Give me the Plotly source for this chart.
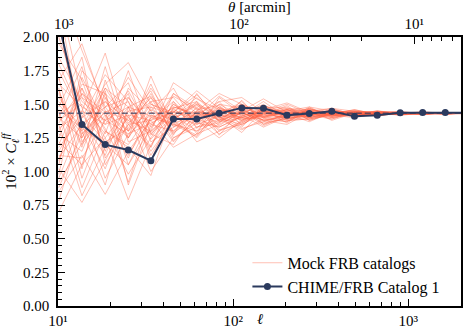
import numpy as np
import plotly.graph_objects as go

# multipole bin centres
ell = [10.1, 13.7, 18.6, 25.2, 33.9, 45.6, 62.0, 83.2, 112, 149, 203, 272,
       366, 493, 665, 899, 1208, 1626, 2190]

# CHIME/FRB Catalog 1 measurement (10^2 x C_ell^ff)
chime = [2.11, 1.35, 1.20, 1.16, 1.08, 1.39, 1.39, 1.433, 1.473, 1.47, 1.418,
         1.431, 1.448, 1.41, 1.418, 1.436, 1.438, 1.438, 1.436]

mean_level = 1.433

# mock catalog realisations
mocks = [
    [1.85, 1.52, 1.38, 1.60, 1.29, 1.47, 1.52, 1.38, 1.44, 1.49, 1.41, 1.45, 1.42, 1.44, 1.43, 1.425, 1.438, 1.432, 1.436],
    [0.92, 1.21, 1.55, 1.12, 1.40, 1.35, 1.30, 1.48, 1.39, 1.41, 1.46, 1.40, 1.44, 1.415, 1.445, 1.44, 1.428, 1.435, 1.43],
    [1.40, 1.78, 1.10, 1.35, 1.55, 1.28, 1.45, 1.42, 1.52, 1.37, 1.43, 1.47, 1.41, 1.45, 1.42, 1.435, 1.44, 1.43, 1.434],
    [2.25, 1.30, 1.62, 1.48, 1.18, 1.52, 1.36, 1.33, 1.41, 1.46, 1.39, 1.42, 1.46, 1.43, 1.41, 1.44, 1.425, 1.438, 1.432],
    [0.70, 1.05, 1.25, 0.79, 1.20, 1.41, 1.55, 1.40, 1.35, 1.43, 1.48, 1.38, 1.43, 1.42, 1.44, 1.43, 1.436, 1.428, 1.435],
    [1.62, 0.95, 1.40, 1.70, 1.45, 1.22, 1.40, 1.56, 1.45, 1.34, 1.42, 1.44, 1.39, 1.44, 1.435, 1.42, 1.44, 1.434, 1.43],
    [1.15, 1.45, 1.88, 1.30, 1.62, 1.38, 1.25, 1.44, 1.50, 1.40, 1.37, 1.45, 1.44, 1.41, 1.43, 1.445, 1.43, 1.426, 1.437],
    [1.95, 1.68, 1.20, 1.05, 1.32, 1.58, 1.47, 1.30, 1.37, 1.47, 1.44, 1.39, 1.42, 1.46, 1.42, 1.43, 1.422, 1.44, 1.433],
    [1.02, 0.77, 1.08, 1.42, 1.00, 1.25, 1.33, 1.39, 1.31, 1.39, 1.45, 1.48, 1.40, 1.43, 1.45, 1.425, 1.435, 1.43, 1.428],
    [1.52, 1.33, 1.65, 1.81, 1.50, 1.44, 1.60, 1.47, 1.42, 1.52, 1.40, 1.41, 1.45, 1.42, 1.44, 1.44, 1.43, 1.437, 1.434],
    [2.40, 1.90, 1.48, 1.25, 1.71, 1.33, 1.42, 1.52, 1.55, 1.44, 1.50, 1.43, 1.47, 1.445, 1.425, 1.432, 1.445, 1.43, 1.436],
    [0.85, 1.12, 0.83, 1.15, 1.38, 1.18, 1.28, 1.35, 1.44, 1.36, 1.39, 1.40, 1.42, 1.40, 1.43, 1.42, 1.43, 1.428, 1.431],
    [1.30, 1.58, 1.32, 0.98, 1.25, 1.50, 1.38, 1.25, 1.38, 1.42, 1.47, 1.46, 1.38, 1.435, 1.415, 1.44, 1.432, 1.44, 1.43],
    [1.75, 1.40, 1.72, 1.52, 1.12, 1.40, 1.50, 1.43, 1.33, 1.49, 1.43, 1.37, 1.44, 1.45, 1.44, 1.43, 1.44, 1.432, 1.437],
    [1.08, 1.62, 1.15, 1.62, 1.45, 1.62, 1.32, 1.50, 1.47, 1.38, 1.35, 1.44, 1.43, 1.42, 1.43, 1.438, 1.426, 1.435, 1.43],
    [2.10, 1.25, 1.52, 1.30, 1.58, 1.27, 1.58, 1.37, 1.40, 1.45, 1.42, 1.47, 1.41, 1.44, 1.445, 1.43, 1.435, 1.43, 1.434],
    [1.45, 0.88, 1.30, 1.18, 0.97, 1.45, 1.22, 1.30, 1.42, 1.33, 1.41, 1.42, 1.45, 1.41, 1.42, 1.425, 1.43, 1.438, 1.428],
    [0.78, 1.35, 1.02, 1.45, 1.28, 1.20, 1.45, 1.58, 1.50, 1.41, 1.38, 1.39, 1.43, 1.44, 1.435, 1.445, 1.428, 1.43, 1.436],
    [1.68, 1.95, 1.45, 1.38, 1.52, 1.55, 1.35, 1.41, 1.29, 1.46, 1.51, 1.44, 1.40, 1.43, 1.44, 1.42, 1.44, 1.436, 1.432],
    [1.22, 1.05, 1.60, 0.90, 1.35, 1.30, 1.48, 1.34, 1.45, 1.54, 1.44, 1.41, 1.46, 1.42, 1.43, 1.435, 1.434, 1.43, 1.433],
    [2.00, 1.48, 0.95, 1.28, 1.42, 1.36, 1.27, 1.45, 1.47, 1.35, 1.40, 1.46, 1.42, 1.445, 1.42, 1.44, 1.438, 1.428, 1.435],
    [0.98, 1.70, 1.35, 1.58, 1.08, 1.48, 1.42, 1.28, 1.36, 1.44, 1.46, 1.40, 1.44, 1.415, 1.45, 1.43, 1.425, 1.44, 1.43],
    [1.58, 1.18, 1.78, 1.22, 1.30, 1.66, 1.54, 1.46, 1.40, 1.39, 1.37, 1.48, 1.45, 1.43, 1.43, 1.425, 1.44, 1.43, 1.434],
    [1.35, 0.82, 1.18, 1.40, 1.60, 1.25, 1.36, 1.52, 1.34, 1.47, 1.43, 1.42, 1.39, 1.44, 1.44, 1.44, 1.43, 1.434, 1.431],
    [2.30, 1.55, 1.42, 1.10, 1.48, 1.42, 1.30, 1.38, 1.49, 1.42, 1.49, 1.38, 1.43, 1.46, 1.425, 1.43, 1.435, 1.426, 1.437],
    [0.88, 1.28, 1.48, 1.66, 1.22, 1.33, 1.44, 1.41, 1.32, 1.37, 1.42, 1.45, 1.47, 1.42, 1.44, 1.44, 1.428, 1.438, 1.43],
    [1.48, 1.85, 1.05, 1.35, 1.38, 1.52, 1.28, 1.55, 1.43, 1.50, 1.39, 1.43, 1.41, 1.43, 1.415, 1.435, 1.44, 1.43, 1.435],
    [1.12, 1.10, 1.38, 1.48, 1.15, 1.38, 1.52, 1.27, 1.46, 1.40, 1.45, 1.40, 1.44, 1.45, 1.44, 1.42, 1.43, 1.437, 1.432],
    [1.80, 1.42, 1.22, 1.32, 1.65, 1.29, 1.40, 1.44, 1.38, 1.46, 1.36, 1.47, 1.42, 1.41, 1.435, 1.44, 1.435, 1.43, 1.434],
    [1.25, 1.65, 1.58, 1.05, 1.40, 1.47, 1.33, 1.36, 1.53, 1.35, 1.44, 1.44, 1.43, 1.44, 1.43, 1.43, 1.44, 1.428, 1.433],
    [0.95, 1.38, 1.12, 1.55, 1.33, 1.56, 1.46, 1.49, 1.37, 1.43, 1.40, 1.41, 1.46, 1.43, 1.45, 1.435, 1.426, 1.435, 1.43],
    [1.70, 1.02, 1.68, 1.25, 1.52, 1.23, 1.39, 1.33, 1.41, 1.48, 1.47, 1.43, 1.40, 1.44, 1.42, 1.43, 1.438, 1.433, 1.436],
    [1.38, 1.50, 1.28, 1.75, 1.28, 1.44, 1.57, 1.40, 1.44, 1.38, 1.41, 1.46, 1.44, 1.42, 1.44, 1.44, 1.43, 1.43, 1.431],
    [2.15, 1.22, 1.45, 0.92, 1.42, 1.35, 1.26, 1.47, 1.40, 1.45, 1.38, 1.39, 1.43, 1.45, 1.43, 1.425, 1.436, 1.44, 1.434],
    [1.05, 1.75, 1.55, 1.35, 1.18, 1.58, 1.43, 1.39, 1.48, 1.41, 1.46, 1.45, 1.42, 1.43, 1.425, 1.44, 1.43, 1.432, 1.43],
    [1.55, 1.30, 0.90, 1.48, 1.56, 1.39, 1.50, 1.31, 1.35, 1.43, 1.43, 1.42, 1.45, 1.42, 1.44, 1.435, 1.44, 1.436, 1.435],
    [1.32, 1.45, 1.35, 1.42, 1.38, 1.44, 1.41, 1.46, 1.42, 1.44, 1.42, 1.43, 1.435, 1.425, 1.43, 1.432, 1.434, 1.43, 1.433],
    [1.50, 1.28, 1.44, 1.30, 1.46, 1.37, 1.45, 1.40, 1.45, 1.41, 1.44, 1.42, 1.43, 1.44, 1.428, 1.436, 1.43, 1.434, 1.432],
    [1.18, 1.40, 1.52, 1.38, 1.30, 1.46, 1.38, 1.44, 1.40, 1.45, 1.41, 1.445, 1.42, 1.43, 1.44, 1.43, 1.436, 1.431, 1.434],
    [1.42, 1.55, 1.25, 1.48, 1.41, 1.34, 1.47, 1.38, 1.43, 1.40, 1.45, 1.43, 1.44, 1.425, 1.435, 1.428, 1.432, 1.436, 1.43],
    [1.60, 1.20, 1.42, 1.25, 1.50, 1.42, 1.35, 1.48, 1.38, 1.46, 1.43, 1.41, 1.43, 1.44, 1.43, 1.437, 1.43, 1.432, 1.435],
    [1.10, 1.35, 1.48, 1.55, 1.35, 1.48, 1.43, 1.36, 1.47, 1.42, 1.40, 1.44, 1.425, 1.43, 1.44, 1.43, 1.428, 1.434, 1.433],
    [1.36, 1.62, 1.30, 1.20, 1.44, 1.39, 1.49, 1.42, 1.39, 1.43, 1.46, 1.42, 1.44, 1.42, 1.425, 1.44, 1.434, 1.43, 1.432],
    [1.28, 1.15, 1.58, 1.40, 1.27, 1.50, 1.40, 1.45, 1.44, 1.38, 1.42, 1.45, 1.41, 1.435, 1.43, 1.43, 1.44, 1.433, 1.436],
    [1.46, 1.32, 1.20, 1.45, 1.48, 1.30, 1.44, 1.41, 1.50, 1.44, 1.39, 1.43, 1.45, 1.43, 1.42, 1.435, 1.428, 1.437, 1.431],
    [1.65, 1.48, 1.38, 1.28, 1.36, 1.45, 1.37, 1.50, 1.41, 1.47, 1.43, 1.40, 1.43, 1.445, 1.435, 1.425, 1.435, 1.43, 1.434],
    [1.20, 1.58, 1.44, 1.52, 1.24, 1.42, 1.51, 1.37, 1.45, 1.40, 1.46, 1.44, 1.42, 1.42, 1.43, 1.44, 1.43, 1.435, 1.43],
    [1.40, 1.25, 1.62, 1.36, 1.55, 1.36, 1.42, 1.43, 1.36, 1.45, 1.41, 1.46, 1.44, 1.43, 1.44, 1.43, 1.437, 1.429, 1.433],
]

ell_ticks = [10, 100, 1000]
ell_ticktext = ["10¹", "10²", "10³"]
theta_ticks = [1000, 100, 10]
theta_ticktext = ["10³", "10²", "10¹"]

ell_min, ell_max = 10, 2000

NAVY = "#2b3a5e"
MOCK = "rgba(255,99,71,0.4)"
FONT = "Liberation Serif"

fig = go.Figure()

for i, m in enumerate(mocks):
    fig.add_trace(go.Scatter(
        x=ell, y=m, mode="lines",
        line=dict(color=MOCK, width=1),
        name="Mock FRB catalogs", legendgroup="mock",
        showlegend=(i == 0), hoverinfo="skip",
    ))

fig.add_trace(go.Scatter(
    x=[ell[0], ell[-1]], y=[mean_level, mean_level], mode="lines",
    line=dict(color="rgba(43,58,94,0.7)", width=1.5, dash="6px,3px"),
    showlegend=False, hoverinfo="skip",
))

fig.add_trace(go.Scatter(
    x=ell, y=chime, mode="lines+markers",
    line=dict(color=NAVY, width=2),
    marker=dict(color=NAVY, size=7),
    name="CHIME/FRB Catalog 1",
))

# theta [arcmin] = 10800 / ell
theta_lo = 10800 / ell_max
theta_hi = 10800 / ell_min
# empty trace so the top theta axis is drawn
fig.add_trace(go.Scatter(
    x=[theta_hi, theta_lo], y=[None, None], xaxis="x2",
    mode="lines", showlegend=False, hoverinfo="skip",
))


def minor_vals(lo_exp, hi_exp):
    vals = []
    for e in range(lo_exp, hi_exp + 1):
        for k in range(2, 10):
            vals.append(k * 10 ** e)
    return vals


axis_common = dict(
    type="log", ticks="inside", ticklen=7, tickwidth=1, tickcolor="black",
    showgrid=False, zeroline=False, showline=True, linecolor="black", linewidth=1.5,
    tickfont=dict(family=FONT, size=15, color="black"), automargin=False,
)

fig.update_layout(
    width=463, height=329,
    margin=dict(l=58, r=2, t=37, b=23),
    plot_bgcolor="white", paper_bgcolor="white",
    font=dict(family=FONT, size=15, color="black"),
    xaxis=dict(
        **axis_common,
        range=[np.log10(ell_min), np.log10(ell_max)],
        tickvals=ell_ticks, ticktext=ell_ticktext,
        minor=dict(tickvals=minor_vals(1, 3), ticks="inside", ticklen=4, tickcolor="black"),
        mirror=True,
    ),
    xaxis2=dict(
        **axis_common,
        overlaying="x", side="top", anchor="y",
        range=[np.log10(theta_hi), np.log10(theta_lo)],
        tickvals=theta_ticks, ticktext=theta_ticktext,
        minor=dict(tickvals=minor_vals(0, 2), ticks="inside", ticklen=4, tickcolor="black"),
    ),
    yaxis=dict(
        range=[0, 2.0], tickvals=[0, 0.25, 0.5, 0.75, 1.0, 1.25, 1.5, 1.75, 2.0],
        tickformat=".2f", ticks="inside", ticklen=7, tickcolor="black",
        minor=dict(dtick=0.05, ticks="inside", ticklen=4, tickcolor="black", showgrid=False),
        showgrid=False, zeroline=False, showline=True, linecolor="black", linewidth=1.5,
        mirror=True, automargin=False, ticklabelstandoff=4,
        tickfont=dict(family=FONT, size=15, color="black"),
    ),
    legend=dict(
        x=0.47, y=0.008, xanchor="left", yanchor="bottom",
        bgcolor="rgba(0,0,0,0)", font=dict(family=FONT, size=16),
        tracegroupgap=0,
    ),
    annotations=[
        dict(text="<i>ℓ</i>", xref="paper", yref="paper", x=0.5, y=-0.047,
             showarrow=False, font=dict(family=FONT, size=15), yanchor="middle"),
        dict(text="<i>θ</i> [arcmin]", xref="paper", yref="paper", x=0.5, y=1.112,
             showarrow=False, font=dict(family=FONT, size=15), yanchor="middle"),
        dict(text="10<sup>2</sup> × <i>C</i><sub><i>ℓ</i></sub><sup><i>ff</i></sup>",
             xref="paper", yref="paper", x=-0.119, y=0.54, textangle=-90,
             showarrow=False, font=dict(family=FONT, size=15),
             xanchor="center", yanchor="middle"),
    ],
)

# drop the default 8px body margin so the figure fills the window
fig.write_html("out.html", config={"displayModeBar": False},
               post_script="document.body.style.margin = '0';")
